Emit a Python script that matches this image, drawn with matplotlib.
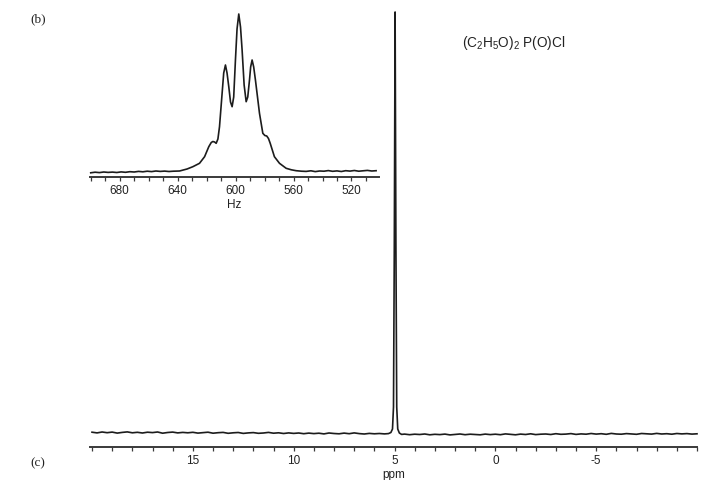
import numpy as np
import matplotlib
matplotlib.use("Agg")
import matplotlib.pyplot as plt
from matplotlib.ticker import MultipleLocator

plt.rcParams['font.family'] = ['Liberation Sans', 'DejaVu Sans']

# ---------------- data ----------------
# main 31P spectrum (ppm) : baseline samples every 0.25 ppm from 20 to -10
main_ppm_grid = np.arange(20.0, -10.001, -0.25)
main_baseline = [
    14.8, 14.1, 15.0, 14.3, 14.9, 13.9, 14.6, 15.1, 14.2, 14.7, 14.0, 14.8, 14.4, 15.0, 13.8, 14.5, 14.9, 14.1, 14.6, 14.2,
    14.7, 13.9, 14.4, 14.8, 13.8, 14.3, 14.6, 13.7, 14.2, 14.5, 13.6, 14.1, 14.4, 13.7, 14.0, 14.6, 13.8, 14.2, 13.5, 14.1,
    13.6, 14.0, 13.3, 13.9, 13.4, 13.8, 13.1, 14.0, 13.5, 13.2, 13.9, 13.3, 14.1, 13.4, 13.0, 13.6, 13.2, 13.5, 13.1, 13.8,
    14.5, 12.6, 12.9, 12.3, 12.8, 12.5, 13.0, 12.2, 12.7, 12.4, 12.9, 12.1, 12.6, 13.0, 12.3, 12.8, 12.5, 12.2, 12.9, 12.4,
    12.8, 12.3, 13.1, 12.6, 12.2, 12.9, 12.5, 13.2, 12.4, 12.8, 13.0, 12.5, 13.3, 12.7, 12.9, 13.4, 12.6, 13.1, 12.8, 13.5,
    12.9, 13.3, 12.7, 13.6, 13.0, 12.8, 13.4, 13.1, 12.7, 13.5, 13.2, 12.9, 13.6, 13.0, 13.3, 12.8, 13.5, 13.1, 13.4, 12.9,
    13.2,
]
# single sharp resonance near 5 ppm
peak_ppm = [5.30, 5.18, 5.10, 5.05, 5.01, 4.97, 4.93, 4.89, 4.84, 4.76, 4.65]
peak_int = [13.4, 14.5, 18.0, 40.0, 200.0, 435.0, 200.0, 40.0, 18.0, 14.0, 12.6]

# inset: proton-coupled multiplet (Hz)
inset_hz = [700, 697, 694, 691, 688, 685, 682, 679, 676, 673, 670, 667, 664, 661, 658, 655, 652, 649, 646, 643,
            638.7, 633.5, 629.5, 624.9, 621.4, 618.5, 616.8, 615.7, 614.5, 613.4, 612.2, 611.1, 609.3,
            608.2, 607.0, 605.9, 604.7, 603.5, 602.4, 601.3, 600.1, 599.0, 597.8, 596.6,
            595.5, 594.1, 592.7, 591.6, 590.4, 589.6, 588.6, 587.5, 586.3, 583.5, 581.2, 579.8, 578.5, 577.3, 576.1,
            573.2, 569.7, 565.1, 561.5, 558.2, 554.5, 551.3,
            548, 545, 542, 539, 536, 533, 530, 527, 524, 521, 518, 515, 512, 509, 506, 503]
inset_int = [4.2, 4.8, 4.4, 5.0, 4.6, 4.9, 4.5, 5.1, 4.7, 5.3, 5.0, 5.6, 5.2, 5.8, 5.4, 6.0, 5.6, 5.9, 5.5, 5.8,
             6.0, 8.0, 10.3, 13.7, 20.3, 30.3, 34.5, 35.5, 35.0, 33.7, 38.0, 50.3, 83.7,
             104.0, 112.0, 104.0, 90.3, 75.0, 70.3, 80.0, 117.0, 148.0, 163.0, 150.0,
             127.0, 92.0, 75.3, 80.0, 97.0, 110.0, 117.0, 110.0, 97.0, 63.7, 43.7, 41.5, 41.0, 38.5, 33.7,
             20.3, 13.7, 8.7, 7.2, 6.3, 5.8, 5.6,
             6.2, 5.4, 6.0, 5.8, 6.4, 5.7, 6.1, 5.5, 6.3, 5.9, 6.5, 5.8, 6.2, 6.6, 6.0, 6.3]

main_ticks = [15, 10, 5, 0, -5]
inset_ticks = [680, 640, 600, 560, 520]
title_text = r'(C$_\mathregular{2}$H$_\mathregular{5}$O)$_\mathregular{2}$ P(O)Cl'

# ---------------- figure ----------------
W, H = 702, 480
fig = plt.figure(figsize=(W / 100, H / 100), dpi=100)

def frac(x0, y_bottom_px, w, h):
    return [x0 / W, (H - y_bottom_px) / H, w / W, h / H]

line_col = '#1c1c1c'
axis_col = '#3a3a3a'

def style_axis(ax, major, minor, labels):
    for s in ('left', 'right', 'top'):
        ax.spines[s].set_visible(False)
    ax.spines['bottom'].set_color(axis_col)
    ax.spines['bottom'].set_linewidth(1.4)
    ax.set_yticks([])
    ax.set_xticks(major)
    ax.set_xticklabels(labels)
    ax.xaxis.set_minor_locator(MultipleLocator(minor))
    ax.tick_params(axis='x', which='both', direction='out', length=3, width=0.9,
                   color=axis_col, labelsize=8.5, pad=3, labelcolor='#222222')
    ax.patch.set_alpha(0)

# main axes
ax = fig.add_axes(frac(90, 447, 607, 437))
grid = np.asarray(main_ppm_grid)
base = np.asarray(main_baseline)
keep = (grid > 5.35) | (grid < 4.6)
xs = np.concatenate([grid[keep], peak_ppm])
ys = np.concatenate([base[keep], peak_int])
order = np.argsort(-xs)
ax.plot(xs[order], ys[order], color=line_col, lw=1.2, clip_on=False)
ax.set_xlim(20.1, -10.0)
ax.set_ylim(0, 437)
style_axis(ax, main_ticks, 1, [str(t) if t >= 0 else '-' + str(-t) for t in main_ticks])
ax.set_xlabel('ppm', fontsize=8.5, labelpad=1, color='#222222')

# inset axes
ai = fig.add_axes(frac(90, 177, 289, 165))
ai.plot(inset_hz, inset_int, color=line_col, lw=1.2, clip_on=False)
ai.set_xlim(700.5, 501)
ai.set_ylim(0, 165)
style_axis(ai, inset_ticks, 10, [str(t) for t in inset_ticks])
ai.set_xlabel('Hz', fontsize=8.5, labelpad=1, color='#222222')

# texts
fig.text(462 / W, 1 - 43 / H, title_text, fontsize=9.8, va='center', ha='left', color='#222222')
fig.text(38 / W, 1 - 19 / H, '(b)', fontsize=9.5, va='center', ha='center',
         family=['Liberation Serif', 'DejaVu Serif'], color='#222222')
fig.text(38 / W, 1 - 463 / H, '(c)', fontsize=9.5, va='center', ha='center',
         family=['Liberation Serif', 'DejaVu Serif'], color='#222222')

fig.savefig('out.png', dpi=100)
